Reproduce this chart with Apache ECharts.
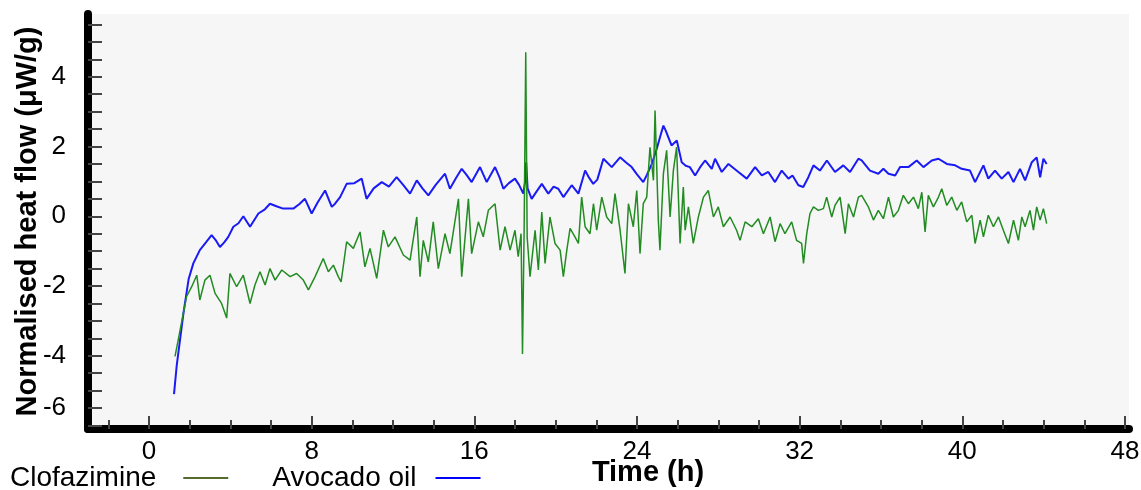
<!DOCTYPE html>
<html>
<head>
<meta charset="utf-8">
<script src="https://cdn.jsdelivr.net/npm/echarts@6/dist/echarts.min.js"></script>
<style>
html,body{margin:0;padding:0;background:#fff;}
#chart{width:1141px;height:490px;}
</style>
</head>
<body>
<div id="chart"></div>
<script>
// ---- data (hours, µW/g) ----
const avocadoTime = [1.23,1.36,1.69,1.95,2.18,2.5,2.8,3.08,3.3,3.49,3.7,3.9,4.15,4.4,4.64,4.97,5.38,5.7,5.95,6.3,6.6,7.1,7.4,7.67,8.0,8.3,8.66,8.99,9.15,9.4,9.72,10.1,10.46,10.7,11.05,11.45,11.8,12.18,12.5,12.84,13.17,13.45,13.74,14.1,14.56,14.8,15.1,15.38,15.6,15.87,16.28,16.61,17.02,17.25,17.43,17.7,18.0,18.2,18.41,18.5,18.55,18.62,18.82,19.05,19.32,19.64,19.9,20.13,20.38,20.79,21.12,21.45,21.65,21.85,22.05,22.35,22.76,23.17,23.45,23.74,24.0,24.31,24.5,24.73,24.97,25.15,25.3,25.42,25.54,25.7,25.96,26.2,26.4,26.6,26.86,27.1,27.35,27.68,27.84,28.17,28.5,28.99,29.4,29.81,30.14,30.46,30.79,31.12,31.45,31.65,31.94,32.18,32.43,32.68,33.0,33.34,33.74,34.15,34.48,34.89,35.05,35.46,35.87,36.12,36.37,36.7,36.94,37.35,37.76,38.09,38.5,38.83,39.24,39.65,39.97,40.38,40.63,41.04,41.28,41.61,41.94,42.27,42.52,42.84,43.09,43.42,43.66,43.83,43.99,44.15];
const avocadoFlow = [-5.1,-4.3,-2.8,-1.8,-1.35,-0.97,-0.75,-0.54,-0.7,-0.88,-0.75,-0.59,-0.3,-0.2,0,-0.3,0.08,0.2,0.36,0.28,0.22,0.22,0.35,0.5,0.08,0.4,0.74,0.27,0.36,0.55,0.93,0.95,1.08,0.5,0.8,0.98,0.85,1.12,0.9,0.65,1.03,0.8,0.6,0.9,1.22,0.79,1.1,1.36,1.2,0.98,1.41,0.98,1.41,1.1,0.79,0.95,1.08,0.9,0.65,1.0,1.55,0.8,0.5,0.7,0.93,0.65,0.85,0.79,0.55,0.89,0.65,1.31,1.1,0.93,1.05,1.65,1.41,1.69,1.55,1.41,1.2,0.98,1.2,1.5,1.93,2.3,2.6,2.45,2.27,2.03,2.17,1.55,1.45,1.41,1.17,1.4,1.6,1.36,1.65,1.27,1.5,1.27,1.08,1.41,1.17,1.27,0.98,1.31,1.08,1.17,0.89,0.84,1.12,1.46,1.31,1.6,1.27,1.46,1.27,1.65,1.6,1.31,1.22,1.36,1.22,1.17,1.41,1.41,1.6,1.41,1.6,1.65,1.5,1.46,1.36,1.31,0.98,1.46,1.08,1.31,1.08,1.27,0.98,1.36,1.03,1.55,1.69,1.12,1.65,1.5];
const clofTime = [1.28,1.44,1.69,1.85,2.1,2.35,2.5,2.75,3.0,3.25,3.57,3.82,3.98,4.31,4.64,4.97,5.21,5.46,5.71,5.95,6.2,6.53,6.94,7.26,7.59,7.84,8.17,8.57,8.82,9.07,9.31,9.45,9.72,10.05,10.38,10.62,10.87,11.2,11.53,11.77,12.1,12.51,12.84,13.17,13.33,13.49,13.74,13.98,14.23,14.56,14.8,15.22,15.38,15.71,15.87,16.2,16.44,16.69,17.02,17.27,17.51,17.76,18.0,18.16,18.3,18.37,18.45,18.53,18.6,18.74,18.99,19.15,19.32,19.48,19.72,19.97,20.22,20.38,20.55,20.71,20.95,21.12,21.28,21.45,21.69,21.86,22.02,22.27,22.51,22.76,22.92,23.17,23.41,23.58,23.82,23.99,24.15,24.31,24.48,24.64,24.81,24.89,25.05,25.13,25.3,25.46,25.63,25.79,25.95,26.12,26.28,26.37,26.53,26.77,27.02,27.27,27.51,27.76,28.0,28.25,28.58,28.9,29.07,29.32,29.65,29.97,30.22,30.55,30.79,31.04,31.28,31.61,31.85,32.1,32.19,32.35,32.51,32.68,32.92,33.17,33.33,33.58,33.74,33.99,34.24,34.4,34.65,34.89,35.05,35.38,35.63,35.87,36.12,36.37,36.61,36.86,37.1,37.35,37.6,37.84,38.01,38.17,38.33,38.58,38.83,38.99,39.24,39.48,39.73,39.97,40.22,40.47,40.63,40.88,41.04,41.28,41.53,41.78,42.02,42.27,42.52,42.76,42.93,43.09,43.33,43.5,43.66,43.83,43.99,44.15];
const clofFlow = [-4.02,-3.54,-2.78,-2.3,-2.02,-1.69,-2.4,-1.83,-1.69,-2.21,-2.5,-2.92,-1.64,-2.02,-1.69,-2.5,-1.97,-1.59,-1.97,-1.5,-1.83,-1.54,-1.73,-1.64,-1.83,-2.11,-1.73,-1.21,-1.59,-1.4,-1.73,-1.88,-0.73,-0.92,-0.45,-1.45,-0.92,-1.78,-0.4,-0.88,-0.59,-1.11,-1.26,-0.02,-1.73,-0.69,-1.31,-0.16,-1.5,-0.5,-1.07,0.5,-1.73,0.5,-1.07,-0.16,-0.59,0.17,0.36,-0.97,-0.3,-0.97,-0.4,-1.16,-0.5,-3.95,-0.4,4.7,-0.6,-1.73,-0.4,-1.54,0.12,-1.35,-0.02,-0.78,-0.97,-1.73,-0.97,-0.35,-0.59,-0.78,0.55,-0.3,-0.5,0.36,-0.4,0.55,-0.02,-0.21,0.65,-0.4,-1.64,0.36,-0.3,0.74,-1.07,0.36,0.55,1.98,1.03,3.03,-0.11,-0.97,1.22,1.89,-0.02,1.31,1.98,-0.78,0.84,-0.4,0.27,-0.78,-0.02,0.55,0.74,-0.02,0.27,-0.3,-0.02,-0.4,-0.69,-0.16,-0.3,-0.07,-0.5,-0.02,-0.73,-0.21,-0.5,-0.16,-0.69,-0.78,-1.35,-0.5,0.08,0.27,0.17,0.22,0.55,-0.02,0.31,0.55,-0.5,0.36,-0.02,0.55,0.6,0.27,-0.11,0.17,-0.07,0.55,-0.02,0.17,0.6,0.36,0.55,0.22,0.69,-0.45,0.6,0.27,0.55,0.79,0.31,0.55,0.17,0.41,-0.16,0.03,-0.78,-0.11,-0.59,0.03,-0.3,-0.02,-0.4,-0.78,-0.11,-0.69,-0.02,-0.3,0.17,-0.4,0.27,-0.11,0.22,-0.21];

const xMinorTicks = [-2,0,2,4,6,8,10,12,14,16,18,20,22,24,26,28,30,32,34,36,38,40,42,44,46,48];
const xTickLabels = [0,8,16,24,32,40,48];
const yMinorTicks = [-6,-5.5,-5,-4.5,-4,-3.5,-3,-2.5,-2,-1.5,-1,-0.5,0,0.5,1,1.5,2,2.5,3,3.5,4,4.5,5,5.5];
const yTickLabels = [-6,-4,-2,0,2,4];
const seriesNames = ['Clofazimine','Avocado oil'];

const pair = (t, v) => t.map((x, i) => [x, v[i]]);
const FONT = '"Liberation Sans", Arial, sans-serif';

const chart = echarts.init(document.getElementById('chart'), null, {renderer: 'canvas'});
chart.setOption({
  animation: false,
  backgroundColor: '#ffffff',
  grid: {
    left: 88, right: 12, top: 14, bottom: 61,
    show: true, backgroundColor: '#f6f6f6', borderWidth: 0,
    containLabel: false, outerBoundsMode: 'none'
  },
  legend: {
    left: 10, top: 464, padding: 0,
    align: 'right', orient: 'horizontal',
    itemWidth: 45, itemHeight: 2, itemGap: 44,
    textStyle: {fontSize: 28, color: '#000', fontFamily: FONT},
    data: [
      {name: seriesNames[0], icon: 'rect', itemStyle: {color: '#556b2f'},
       textStyle: {fontSize: 28, color: '#000', fontFamily: FONT, padding: [0, 22, 0, 0]}},
      {name: seriesNames[1], icon: 'rect', itemStyle: {color: '#0000ff'},
       textStyle: {fontSize: 28, color: '#000', fontFamily: FONT, padding: [0, 14, 0, 0]}}
    ]
  },
  graphic: [{
    type: 'text', x: 648, y: 473,
    style: {text: 'Time (h)', font: 'bold 29px ' + FONT, fill: '#000', align: 'center', verticalAlign: 'middle'}
  }],
  xAxis: [{
    type: 'value', min: -3, max: 48.2, position: 'bottom',
    axisLine: {show: true, onZero: false, lineStyle: {color: '#000', width: 8, cap: 'round'}},
    axisTick: {show: true, inside: true, length: 9, customValues: xMinorTicks, lineStyle: {color: '#444', width: 2}},
    axisLabel: {show: true, customValues: xTickLabels, fontSize: 26, color: '#000', fontFamily: FONT, margin: 10},
    splitLine: {show: false}
  }, {
    type: 'value', min: -3, max: 48.2, position: 'bottom',
    axisLine: {show: false, onZero: false},
    axisTick: {show: true, inside: true, length: 13, customValues: xTickLabels, lineStyle: {color: '#444', width: 2}},
    axisLabel: {show: false},
    splitLine: {show: false}
  }],
  yAxis: {
    type: 'value', min: -6.1, max: 5.8,
    name: 'Normalised heat flow (\u03bcW/g)', nameLocation: 'middle', nameGap: 46, nameMoveOverlap: false,
    nameTextStyle: {fontSize: 29, fontWeight: 'bold', color: '#000', fontFamily: FONT},
    axisLine: {show: true, onZero: false, lineStyle: {color: '#000', width: 8, cap: 'round'}},
    axisTick: {show: true, inside: true, length: 14, customValues: yMinorTicks, lineStyle: {color: '#444', width: 2}},
    axisLabel: {
      show: true, customValues: yTickLabels, fontSize: 26, color: '#000', fontFamily: FONT, margin: 22,
      formatter: v => (v === -6 ? '{lo|-6}' : String(v)),
      rich: {lo: {fontSize: 26, color: '#000', fontFamily: FONT, padding: [0, 0, 35, 0]}}
    },
    splitLine: {show: false}
  },
  series: [{
    name: seriesNames[1], type: 'line', data: pair(avocadoTime, avocadoFlow),
    showSymbol: false, symbol: 'none', sampling: null,
    itemStyle: {color: '#0000ff'},
    lineStyle: {color: '#1a1af5', width: 2}
  }, {
    name: seriesNames[0], type: 'line', data: pair(clofTime, clofFlow),
    showSymbol: false, symbol: 'none', sampling: null,
    itemStyle: {color: '#556b2f'},
    lineStyle: {color: '#228b22', width: 1.5}
  }]
});
</script>
</body>
</html>
